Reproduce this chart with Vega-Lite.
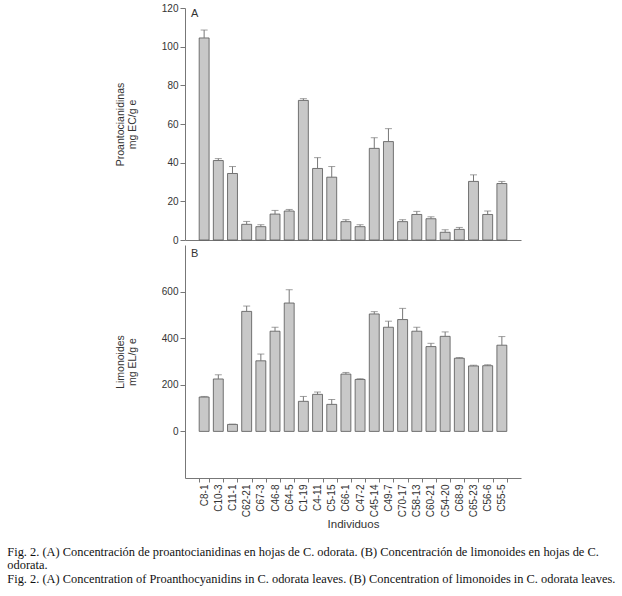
{
  "$schema": "https://vega.github.io/schema/vega-lite/v6.json",
  "background": "white",
  "padding": {"left": 7, "top": 3, "right": 5, "bottom": 5},
  "datasets": {
    "proanto": [
      {"ind": "C8-1", "v": 104.5, "hi": 108.6},
      {"ind": "C10-3", "v": 41.1, "hi": 42.1},
      {"ind": "C11-1", "v": 34.4, "hi": 38.0},
      {"ind": "C62-21", "v": 8.1, "hi": 9.6},
      {"ind": "C67-3", "v": 6.9, "hi": 7.9},
      {"ind": "C46-8", "v": 13.4, "hi": 15.3},
      {"ind": "C64-5", "v": 15.0, "hi": 15.8},
      {"ind": "C1-19", "v": 72.2, "hi": 73.1},
      {"ind": "C4-11", "v": 37.0, "hi": 42.6},
      {"ind": "C5-15", "v": 32.5, "hi": 38.0},
      {"ind": "C66-1", "v": 9.5, "hi": 10.5},
      {"ind": "C47-2", "v": 6.9, "hi": 7.9},
      {"ind": "C45-14", "v": 47.4, "hi": 52.9},
      {"ind": "C49-7", "v": 50.9, "hi": 57.6},
      {"ind": "C70-17", "v": 9.5, "hi": 10.5},
      {"ind": "C58-13", "v": 13.2, "hi": 14.8},
      {"ind": "C60-21", "v": 11.0, "hi": 12.0},
      {"ind": "C54-20", "v": 4.0, "hi": 5.3},
      {"ind": "C68-9", "v": 5.5, "hi": 6.5},
      {"ind": "C65-23", "v": 30.3, "hi": 33.7},
      {"ind": "C56-6", "v": 13.2, "hi": 15.0},
      {"ind": "C55-5", "v": 29.2, "hi": 30.3}
    ],
    "limon": [
      {"ind": "C8-1", "v": 147.5, "hi": 150},
      {"ind": "C10-3", "v": 225, "hi": 243},
      {"ind": "C11-1", "v": 30, "hi": 31},
      {"ind": "C62-21", "v": 515, "hi": 538},
      {"ind": "C67-3", "v": 303, "hi": 332},
      {"ind": "C46-8", "v": 430, "hi": 447},
      {"ind": "C64-5", "v": 551, "hi": 608},
      {"ind": "C1-19", "v": 129, "hi": 150},
      {"ind": "C4-11", "v": 159, "hi": 169},
      {"ind": "C5-15", "v": 116, "hi": 137},
      {"ind": "C66-1", "v": 246, "hi": 253},
      {"ind": "C47-2", "v": 223, "hi": 226},
      {"ind": "C45-14", "v": 504, "hi": 514},
      {"ind": "C49-7", "v": 447, "hi": 473},
      {"ind": "C70-17", "v": 480, "hi": 528},
      {"ind": "C58-13", "v": 430, "hi": 447},
      {"ind": "C60-21", "v": 364, "hi": 378},
      {"ind": "C54-20", "v": 408, "hi": 427},
      {"ind": "C68-9", "v": 314, "hi": 317},
      {"ind": "C65-23", "v": 281, "hi": 284},
      {"ind": "C56-6", "v": 282, "hi": 286},
      {"ind": "C55-5", "v": 370, "hi": 407}
    ]
  },
  "title": {
    "text": ["Fig. 2. (A) Concentración de proantocianidinas en hojas de C. odorata. (B) Concentración de limonoides en hojas de C.", "odorata."],
    "subtitle": "Fig. 2. (A) Concentration of Proanthocyanidins in C. odorata leaves. (B) Concentration of limonoides in C. odorata leaves.",
    "orient": "bottom",
    "anchor": "start",
    "frame": "bounds",
    "dx": -108,
    "offset": 16,
    "font": "Liberation Serif",
    "fontSize": 12.4,
    "fontWeight": "normal",
    "color": "#111",
    "lineHeight": 12.5,
    "subtitleFont": "Liberation Serif",
    "subtitleFontSize": 12.4,
    "subtitleColor": "#111",
    "subtitlePadding": 2
  },
  "spacing": 0,
  "vconcat": [
    {
      "width": 336,
      "height": 232,
      "data": {"name": "proanto"},
      "title": {"text": "A", "anchor": "start", "frame": "group", "orient": "top", "offset": 0, "dx": 6, "dy": 16, "font": "Liberation Sans", "fontSize": 11, "fontWeight": "normal", "color": "#333"},
      "encoding": {
        "x": {"field": "ind", "type": "nominal", "sort": null,
          "scale": {"paddingInner": 0.3, "paddingOuter": 1.66},
          "axis": {"labels": false, "ticks": false, "title": null}}
      },
      "layer": [
        {
          "mark": {"type": "bar", "fill": "#c8c8c8", "stroke": "#555", "strokeWidth": 0.8},
          "encoding": {
            "y": {"field": "v", "type": "quantitative", "scale": {"domain": [0, 120], "nice": false},
              "axis": {"values": [0, 20, 40, 60, 80, 100, 120], "tickCount": 7, "labelOverlap": false, "title": ["Proantocianidinas", "mg EC/g e"], "titlePadding": 24}}
          }
        },
        {
          "mark": {"type": "rule", "color": "#777", "strokeWidth": 1},
          "encoding": {"y": {"field": "v", "type": "quantitative",
              "axis": {"values": [0, 20, 40, 60, 80, 100, 120], "tickCount": 7, "labelOverlap": false, "title": ["Proantocianidinas", "mg EC/g e"], "titlePadding": 24}}, "y2": {"field": "hi"}}
        },
        {
          "mark": {"type": "tick", "color": "#777", "size": 7, "thickness": 1},
          "encoding": {"y": {"field": "hi", "type": "quantitative",
              "axis": {"values": [0, 20, 40, 60, 80, 100, 120], "tickCount": 7, "labelOverlap": false, "title": ["Proantocianidinas", "mg EC/g e"], "titlePadding": 24}}}
        }
      ]
    },
    {
      "width": 336,
      "height": 233,
      "data": {"name": "limon"},
      "title": {"text": "B", "anchor": "start", "frame": "group", "orient": "top", "offset": 0, "dx": 6, "dy": 14, "font": "Liberation Sans", "fontSize": 11, "fontWeight": "normal", "color": "#333"},
      "encoding": {
        "x": {"field": "ind", "type": "nominal", "sort": null,
          "scale": {"paddingInner": 0.3, "paddingOuter": 1.66},
          "axis": {"labelAngle": -90, "title": "Individuos", "tickBand": "extent", "tickSize": 4, "titleFontSize": 11.5, "titlePadding": 2}}
      },
      "layer": [
        {
          "mark": {"type": "bar", "fill": "#c8c8c8", "stroke": "#555", "strokeWidth": 0.8},
          "encoding": {
            "y": {"field": "v", "type": "quantitative", "scale": {"domain": [-200, 800], "nice": false},
              "axis": {"values": [0, 200, 400, 600], "labelOverlap": false, "title": ["Limonoides", "mg EL/g e"], "titlePadding": 24}}
          }
        },
        {
          "mark": {"type": "rule", "color": "#777", "strokeWidth": 1},
          "encoding": {"y": {"field": "v", "type": "quantitative",
              "axis": {"values": [0, 200, 400, 600], "labelOverlap": false, "title": ["Limonoides", "mg EL/g e"], "titlePadding": 24}}, "y2": {"field": "hi"}}
        },
        {
          "mark": {"type": "tick", "color": "#777", "size": 7, "thickness": 1},
          "encoding": {"y": {"field": "hi", "type": "quantitative",
              "axis": {"values": [0, 200, 400, 600], "labelOverlap": false, "title": ["Limonoides", "mg EL/g e"], "titlePadding": 24}}}
        }
      ]
    }
  ],
  "config": {
    "view": {"stroke": null},
    "axis": {
      "grid": false,
      "domainColor": "#777",
      "tickColor": "#777",
      "tickSize": 5,
      "labelColor": "#333",
      "labelFont": "Liberation Sans",
      "labelFontSize": 10,
      "labelPadding": 2,
      "labelOverlap": false,
      "titleFont": "Liberation Sans",
      "titleFontSize": 10.5,
      "titleFontWeight": "normal",
      "titleColor": "#333",
      "titleLineHeight": 12
    }
  }
}
